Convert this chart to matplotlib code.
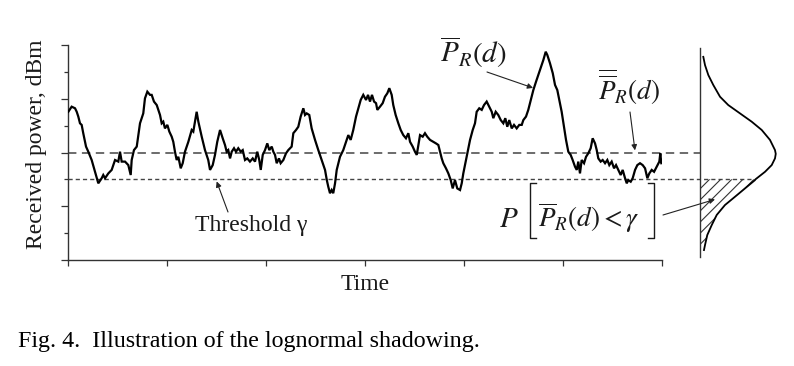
import matplotlib
matplotlib.use("Agg")
import matplotlib.pyplot as plt
from matplotlib.lines import Line2D
import numpy as np

plt.rcParams['font.family'] = ['Liberation Serif', 'DejaVu Serif']
plt.rcParams['mathtext.fontset'] = 'stix'
plt.rcParams['hatch.linewidth'] = 0.8

# ---- data: received power trace (time units, dB units relative) ----
time_1 = [0.6, 4.0, 7.4, 9.1, 10.7, 12.4, 14.1, 15.7, 18.5, 20.8, 24.2, 27.6, 30.9, 34.3, 35.9, 37.7, 41.0, 44.4, 47.8, 51.1,
          52.8, 54.5, 57.9, 61.2, 63.6, 64.6, 66.9, 69.7, 73.0, 76.3, 78.0, 80.4, 83.1, 84.8, 87.1, 89.9, 93.2]
power_1 = [5.52, 5.71, 5.65, 5.52, 5.34, 5.09, 5.03, 4.72, 4.22, 4.03, 3.72, 3.28, 2.85, 3.04, 3.16, 3.04, 3.22, 3.35, 3.72, 3.66,
           4.03, 3.66, 3.66, 3.53, 3.16, 3.72, 4.09, 4.22, 5.09, 5.46, 6.02, 6.27, 6.15, 6.15, 5.90, 5.77, 5.40]
time_2 = [94.9, 96.5, 98.2, 100.6, 102.6, 105.0, 106.6, 108.3, 110.0, 111.7, 114.1, 116.1, 118.4, 121.8, 125.2, 126.8, 128.5,
          130.2, 131.9, 135.3, 138.6, 141.9, 143.7, 146.4, 148.7, 151.0, 153.8, 156.5, 158.8, 160.5, 162.1, 163.9, 165.6,
          167.9, 169.9, 172.2, 174.7, 176.7, 179.0, 181.3, 184.0, 186.8, 189.1, 191.4, 193.4, 194.9, 196.9]
power_2 = [5.09, 5.15, 4.90, 5.03, 4.78, 4.59, 4.40, 4.03, 3.72, 3.84, 3.41, 3.60, 4.03, 4.40, 4.84, 4.78, 5.15,
           5.52, 5.15, 4.59, 4.09, 3.72, 3.35, 3.53, 3.91, 4.40, 4.84, 4.53, 4.28, 4.03, 4.09, 3.78, 4.03,
           4.16, 4.03, 4.16, 4.03, 4.09, 3.72, 3.78, 3.66, 3.78, 3.66, 4.03, 3.72, 3.35, 3.91]
time_3 = [199.2, 201.5, 203.5, 206.0, 207.6, 209.3, 211.0, 213.3, 215.0, 217.7, 220.4, 222.7, 226.1, 227.8, 230.5, 232.8,
          235.2, 237.9, 239.6, 241.3, 243.9, 246.3, 249.7, 253.0, 256.4, 259.8, 261.6, 263.1, 264.8, 266.5, 268.1, 269.9,
          271.6, 274.9, 278.2, 281.0, 283.3, 285.7, 288.3, 291.1, 293.4, 295.8, 298.4]
power_3 = [4.09, 4.34, 4.09, 4.22, 4.03, 3.91, 3.60, 3.78, 3.60, 3.72, 3.97, 4.09, 4.22, 4.72, 4.84, 4.96,
           5.34, 5.65, 5.40, 5.46, 5.40, 4.90, 4.47, 4.09, 3.72, 3.35, 2.97, 2.72, 2.48, 2.60, 2.48, 2.85,
           3.35, 3.84, 4.09, 4.40, 4.65, 4.47, 4.84, 5.34, 5.65, 5.96, 6.15]
time_4 = [301.2, 303.2, 305.2, 307.2, 309.3, 311.3, 312.6, 315.3, 318.0, 320.3, 322.7, 324.7, 327.1, 328.7, 331.1, 333.8,
          336.2, 338.8, 341.5, 343.9, 345.6, 348.3, 350.6, 352.4, 354.0, 355.7, 358.4, 360.7, 363.0, 365.8, 369.1, 371.8,
          374.2, 375.9, 377.6, 379.2, 381.9, 384.3, 386.7, 388.7, 391.0, 393.3, 396.1, 397.8, 399.4, 401.1]
power_4 = [5.96, 6.15, 5.90, 6.15, 5.90, 5.84, 5.59, 5.71, 5.84, 6.08, 6.21, 6.40, 6.15, 5.77, 5.40, 5.09,
           4.84, 4.65, 4.53, 4.72, 4.40, 4.22, 4.03, 3.91, 4.28, 4.65, 4.59, 4.72, 4.59, 4.47, 4.40, 4.34,
           4.28, 4.03, 3.78, 3.60, 3.41, 3.22, 2.97, 2.66, 2.97, 2.66, 2.60, 2.85, 3.22, 3.53]
time_5 = [403.4, 406.2, 408.9, 411.2, 412.9, 415.5, 418.0, 420.3, 423.0, 425.6, 428.1, 429.7, 432.1, 434.7, 437.2, 439.8,
          441.8, 443.8, 445.8, 448.3, 450.6, 453.3, 455.9, 458.4, 460.0, 462.7, 465.0, 467.5, 470.1, 472.8, 475.1, 477.5,
          480.2, 482.6, 484.2, 486.9, 489.7, 492.0, 494.3, 496.3, 498.7, 501.1]
power_5 = [3.97, 4.47, 4.84, 5.09, 5.52, 5.65, 5.59, 5.77, 5.90, 5.71, 5.52, 5.28, 5.52, 5.40, 5.21, 5.09,
           5.28, 4.96, 5.21, 4.90, 5.03, 4.90, 5.03, 5.03, 5.21, 5.34, 5.59, 5.96, 6.33, 6.64, 6.89, 7.14,
           7.45, 7.76, 7.64, 7.33, 6.96, 6.52, 6.33, 5.96, 5.52, 4.96]
time_6 = [503.1, 505.4, 507.8, 509.8, 512.2, 513.9, 515.5, 517.2, 518.9, 521.3, 523.3, 525.6, 528.0, 530.0, 532.4, 534.1,
          535.7, 538.1, 540.1, 542.5, 544.8, 546.8, 549.2, 551.6, 553.6, 555.9, 558.3, 560.3, 562.7, 564.4, 566.0, 568.4,
          570.4, 572.8, 575.1, 577.8, 580.5, 582.9, 585.2, 587.2, 589.6, 592.0, 594.6, 597.3, 598.3, 599.3]
power_6 = [4.47, 4.03, 3.91, 3.72, 3.47, 3.35, 3.66, 3.22, 3.72, 3.60, 3.84, 3.97, 4.16, 4.53, 4.34, 4.09,
           3.78, 3.66, 3.72, 3.60, 3.72, 3.53, 3.66, 3.41, 3.53, 3.35, 3.16, 3.35, 3.04, 2.85, 2.97, 2.91,
           3.04, 3.35, 3.53, 3.60, 3.53, 3.41, 3.04, 3.22, 3.35, 3.28, 3.47, 3.66, 3.97, 3.60]

mean_level = 4.0        # local mean  P_R(d) (double bar)
threshold_level = 3.0   # threshold gamma

# pdf of received power (relative density) read at power levels
pdf_power = [7.57, 7.26, 6.89, 6.52, 6.08, 5.77, 5.46, 5.15, 4.84, 4.47, 4.09, 3.95, 3.78, 3.53, 3.28, 3.0, 2.97,
             2.66, 2.35, 2.04, 1.67, 1.29, 0.92, 0.55, 0.36]
pdf_density = [0.044, 0.067, 0.111, 0.177, 0.267, 0.377, 0.533, 0.689, 0.823, 0.933, 1.0, 1.01, 1.0, 0.956, 0.867, 0.74, 0.733,
               0.60, 0.467, 0.333, 0.223, 0.156, 0.097, 0.067, 0.053]

time = np.concatenate([time_1, time_2, time_3, time_4, time_5, time_6])
power = np.concatenate([power_1, power_2, power_3, power_4, power_5, power_6])

W, H = 794, 366
fig = plt.figure(figsize=(W / 100, H / 100), dpi=100)

def fx(px):
    return px / W

def fy(py):
    return 1 - py / H

ax = fig.add_axes([fx(67.7), fy(259.7), 594.3 / W, 214.4 / H])
ax.set_xlim(0, 600)
ax.set_ylim(0, 8)
for s in ['top', 'right']:
    ax.spines[s].set_visible(False)
for s in ['left', 'bottom']:
    ax.spines[s].set_color('#333333')
    ax.spines[s].set_linewidth(1.0)
ax.set_xticks(np.arange(0, 601, 100))
ax.set_yticks(np.arange(0, 9, 2))
ax.set_yticks(np.arange(1, 8, 2), minor=True)
ax.set_xticklabels([])
ax.set_yticklabels([])
ax.tick_params(axis='x', direction='out', length=4.3, width=0.9, color='#333333')
ax.tick_params(axis='y', which='major', direction='out', length=5, width=0.9, color='#333333')
ax.tick_params(axis='y', which='minor', direction='out', length=3, width=0.9, color='#333333')
ax.patch.set_alpha(0)

ax.plot(time, power, color='black', lw=1.6, solid_joinstyle='miter', zorder=3)

ax.plot([0, 638.4], [mean_level, mean_level], color='#444444', lw=1.1,
        dashes=(5.5, 3.6), clip_on=False, zorder=2)
ax.plot([0, 690], [threshold_level, threshold_level], color='#444444', lw=1.0,
        dashes=(3.0, 2.2), clip_on=False, zorder=2)

# pdf axes
ax2 = fig.add_axes([fx(700), fy(259.7), 90 / W, 214.4 / H])
ax2.set_xlim(0, 1.2)
ax2.set_ylim(0, 8)
ax2.axis('off')
ax2.plot([0, 0], [0.11, 7.89], color='#333333', lw=1.0, clip_on=False)
ax2.plot(pdf_density, pdf_power, color='black', lw=1.3, clip_on=False)
pp = np.array(pdf_power)
pd_ = np.array(pdf_density)
mask = pp <= threshold_level
ax2.fill_betweenx(pp[mask], 0, pd_[mask], facecolor='none', edgecolor='#333333',
                  hatch='///', lw=0, clip_on=False)

serif_color = '#1a1a1a'
fs = 17
fig.text(fx(37), fy(144), 'Received power, dBm', rotation=90, ha='center', va='center',
         fontsize=fs, color=serif_color)
fig.text(fx(364.9), fy(284), 'Time', ha='center', va='center', fontsize=fs, color=serif_color)
fig.text(fx(18), fy(342), 'Fig. 4.  Illustration of the lognormal shadowing.', ha='left', va='center',
         fontsize=17.3, color='black')
fig.text(fx(195), fy(226), 'Threshold γ', ha='left', va='center', fontsize=fs, color=serif_color)
fig.text(fx(440), fy(63), r'$\overline{P}_{R}(d)$', ha='left', va='baseline', fontsize=21, color=serif_color)
fig.text(fx(598), fy(100), r'$\overline{\overline{P}}_{R}(d)$', ha='left', va='baseline', fontsize=19.5,
         color=serif_color)
# P[ ... ] label: big brackets drawn as thin strokes
fig.text(fx(499), fy(227), r'$P$', ha='left', va='baseline', fontsize=21, color=serif_color)
fig.text(fx(538), fy(227), r'$\overline{P}_{R}(d) < \gamma$', ha='left', va='baseline', fontsize=19.5,
         color=serif_color)
for xs, ys in [([536, 530, 530, 536], [183, 183, 238, 238]),
               ([648, 654, 654, 648], [183, 183, 238, 238])]:
    fig.add_artist(Line2D([fx(v) for v in xs], [fy(v) for v in ys], transform=fig.transFigure,
                          color=serif_color, lw=1.0))

arrow = dict(arrowstyle='-|>', color='#222222', lw=0.8, mutation_scale=8, shrinkA=0, shrinkB=0)
ax.annotate('', xy=(150.4, 2.92), xycoords='data', xytext=(228, H - 212), textcoords='figure pixels',
            arrowprops=arrow, annotation_clip=False)
ax.annotate('', xy=(469.8, 6.41), xycoords='data', xytext=(487, H - 72), textcoords='figure pixels',
            arrowprops=arrow, annotation_clip=False)
ax.annotate('', xy=(572.7, 4.08), xycoords='data', xytext=(630, H - 112), textcoords='figure pixels',
            arrowprops=arrow, annotation_clip=False)
ax2.annotate('', xy=(0.2, 2.25), xycoords='data', xytext=(663, H - 215), textcoords='figure pixels',
             arrowprops=arrow, annotation_clip=False)

fig.savefig('out.png', dpi=100, facecolor='white')
